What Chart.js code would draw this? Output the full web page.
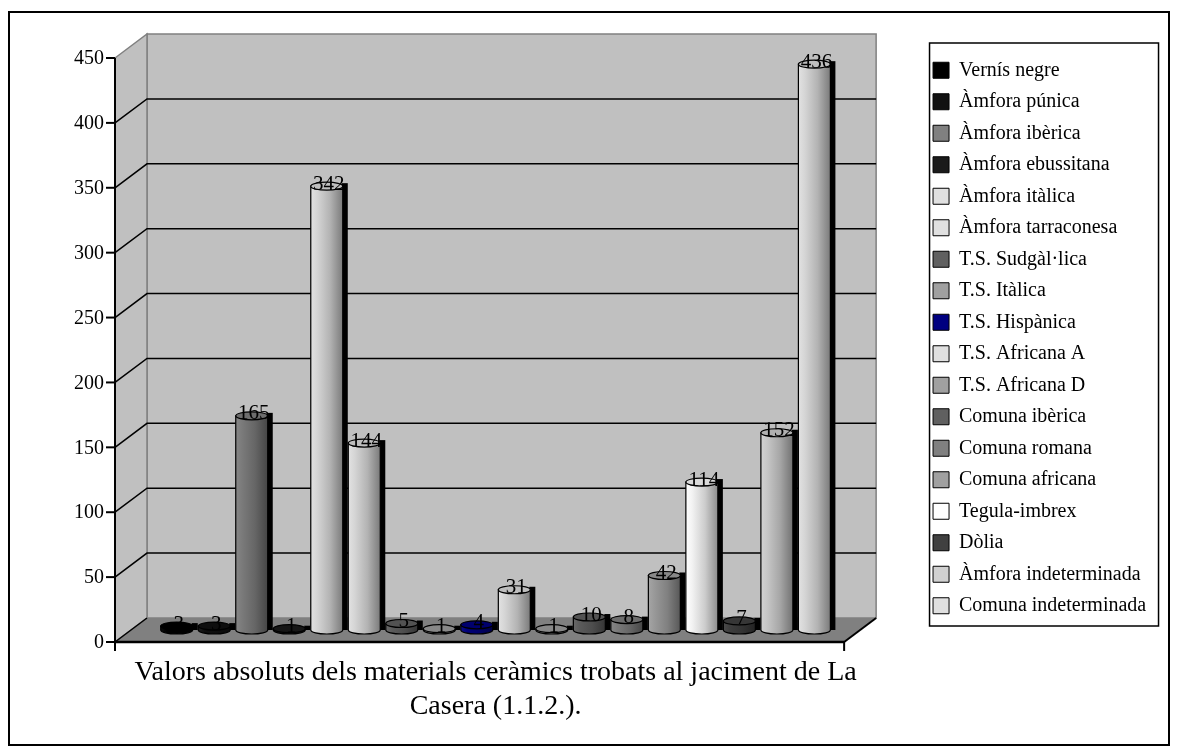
<!DOCTYPE html>
<html>
<head>
<meta charset="utf-8">
<script src="https://cdn.jsdelivr.net/npm/chart.js@4.4.1/dist/chart.umd.min.js"></script>
<style>
    body { margin: 0; background: #fff; }
    canvas { display: block; }
</style>
</head>
<body>
<canvas id="chart" width="1179" height="751"></canvas>
<script>
// Series (one per material)
const categories = [
    'Vernís negre', 'Àmfora púnica', 'Àmfora ibèrica', 'Àmfora ebussitana',
    'Àmfora itàlica', 'Àmfora tarraconesa', 'T.S. Sudgàl·lica', 'T.S. Itàlica',
    'T.S. Hispànica', 'T.S. Africana A', 'T.S. Africana D', 'Comuna ibèrica',
    'Comuna romana', 'Comuna africana', 'Tegula-imbrex', 'Dòlia',
    'Àmfora indeterminada', 'Comuna indeterminada'
];
const values = [3, 3, 165, 1, 342, 144, 5, 1, 4, 31, 1, 10, 8, 42, 114, 7, 152, 436];
const colors = [
    '#000000', '#111111', '#808080', '#1a1a1a', '#e0e0e0', '#e0e0e0',
    '#606060', '#a0a0a0', '#000080', '#e0e0e0', '#a0a0a0', '#606060',
    '#808080', '#a0a0a0', '#ffffff', '#404040', '#d0d0d0', '#e0e0e0'
];
const yMax = 450;
const yStep = 50;
const axisTitle = ['Valors absoluts dels materials ceràmics trobats al jaciment de La', 'Casera (1.1.2.).'];

const SERIF = 'Liberation Serif';
const DX = 16, DY = 12; // half depth of the fake 3D box

function shade(hex, f) {
    const n = parseInt(hex.slice(1), 16);
    let r = n >> 16, g = (n >> 8) & 255, b = n & 255;
    const t = f < 0 ? 0 : 255, p = Math.abs(f);
    r = Math.round(r + (t - r) * p);
    g = Math.round(g + (t - g) * p);
    b = Math.round(b + (t - b) * p);
    return `rgb(${r},${g},${b})`;
}

function quad(ctx, pts, fill, stroke) {
    ctx.beginPath();
    ctx.moveTo(pts[0][0], pts[0][1]);
    pts.slice(1).forEach(p => ctx.lineTo(p[0], p[1]));
    ctx.closePath();
    ctx.fillStyle = fill;
    ctx.fill();
    if (stroke) {
        ctx.strokeStyle = stroke;
        ctx.stroke();
    }
}

function line(ctx, x1, y1, x2, y2, color, w) {
    ctx.beginPath();
    ctx.moveTo(x1, y1);
    ctx.lineTo(x2, y2);
    ctx.strokeStyle = color;
    ctx.lineWidth = w;
    ctx.stroke();
}

// walls, floor, gridlines and the front value axis
const frame3d = {
    id: 'frame3d',
    beforeDatasetsDraw(chart) {
        const { ctx, chartArea: a } = chart;
        const y = chart.scales.y;
        const y0 = y.getPixelForValue(0);
        const yT = y.getPixelForValue(yMax);
        const fl = a.left - DX, bl = a.left + DX, fr = a.right - DX, br = a.right + DX;
        ctx.save();
        ctx.lineWidth = 1.5;
        quad(ctx, [[bl, yT - DY], [br, yT - DY], [br, y0 - DY], [bl, y0 - DY]], '#c0c0c0', '#808080');
        quad(ctx, [[fl, yT + DY], [bl, yT - DY], [bl, y0 - DY], [fl, y0 + DY]], '#c0c0c0', '#808080');
        quad(ctx, [[fl, y0 + DY], [bl, y0 - DY], [br, y0 - DY], [fr, y0 + DY]], '#808080', null);

        y.ticks.forEach(t => {
            if (t.value === 0 || t.value === yMax) return;
            const py = y.getPixelForValue(t.value);
            ctx.beginPath();
            ctx.moveTo(fl, py + DY);
            ctx.lineTo(bl, py - DY);
            ctx.lineTo(br, py - DY);
            ctx.strokeStyle = '#000';
            ctx.lineWidth = 1.5;
            ctx.stroke();
        });

        // front axis + ticks + labels
        line(ctx, fl, yT + DY, fl, y0 + DY, '#000', 2);
        ctx.font = `20px "${SERIF}"`;
        ctx.fillStyle = '#000';
        ctx.textAlign = 'right';
        ctx.textBaseline = 'middle';
        y.ticks.forEach(t => {
            const py = y.getPixelForValue(t.value) + DY;
            line(ctx, fl - 9, py, fl, py, '#000', 2);
            ctx.fillText(String(t.value), fl - 11, py + 1);
        });
        // floor edges and category axis ends
        line(ctx, fl, y0 + DY, fr, y0 + DY, '#000', 2.5);
        line(ctx, fr, y0 + DY, br, y0 - DY, '#000', 2);
        line(ctx, fl, y0 + DY, bl, y0 - DY, '#000', 1.5);
        line(ctx, fr, y0 + DY, fr, y0 + DY + 9, '#000', 2);
        line(ctx, fl, y0 + DY, fl, y0 + DY + 9, '#000', 2);
        ctx.restore();
    },
    afterDatasetsDraw(chart) {
        const { ctx } = chart;
        ctx.save();
        const bars = [];
        chart.data.datasets.forEach((ds, i) => {
            const el = chart.getDatasetMeta(i).data[0];
            if (!el) return;
            const { x, y, base, width } = el.getProps(['x', 'y', 'base', 'width'], true);
            bars.push({ x, y, base, width, c: ds.backgroundColor, v: ds.data[0] });
        });
        bars.forEach(b => {
            const l = b.x - b.width / 2, r = b.x + b.width / 2, ry = 4;
            // dark side
            ctx.fillStyle = '#000';
            ctx.fillRect(r - 1, b.y - 3, 6, b.base - b.y + 3);
            // body
            const g = ctx.createLinearGradient(l, 0, r, 0);
            g.addColorStop(0, shade(b.c, 0.05));
            g.addColorStop(0.2, shade(b.c, -0.05));
            g.addColorStop(0.6, shade(b.c, -0.2));
            g.addColorStop(1, shade(b.c, -0.45));
            ctx.fillStyle = g;
            ctx.beginPath();
            ctx.moveTo(l, b.y);
            ctx.lineTo(l, b.base);
            ctx.ellipse(b.x, b.base, b.width / 2, ry, 0, Math.PI, 0, true);
            ctx.lineTo(r, b.y);
            ctx.closePath();
            ctx.fill();
            ctx.strokeStyle = '#000';
            ctx.lineWidth = 1.2;
            ctx.stroke();
            // top cap
            ctx.beginPath();
            ctx.ellipse(b.x, b.y, b.width / 2, ry, 0, 0, Math.PI * 2);
            ctx.fillStyle = shade(b.c, -0.15);
            ctx.fill();
            ctx.stroke();
        });
        ctx.font = `21px "${SERIF}"`;
        ctx.fillStyle = '#000';
        ctx.textAlign = 'center';
        ctx.textBaseline = 'middle';
        bars.forEach(b => ctx.fillText(String(b.v), b.x + 2, b.y - 2));
        ctx.restore();
    },
    afterDraw(chart) {
        const { ctx, chartArea: a, legend } = chart;
        ctx.save();
        ctx.strokeStyle = '#000';
        ctx.lineWidth = 2;
        ctx.strokeRect(9, 12, 1160, 733);
        ctx.lineWidth = 1.5;
        ctx.strokeRect(legend.left + 8, a.top - 3, 229, a.bottom - a.top - 1);
        ctx.restore();
    }
};

new Chart(document.getElementById('chart'), {
    type: 'bar',
    data: {
        labels: [''],
        datasets: categories.map((name, i) => ({
            label: name,
            data: [values[i]],
            backgroundColor: colors[i],
            borderColor: '#000',
            borderWidth: 1,
            categoryPercentage: 0.926,
            barPercentage: 0.853,
        })),
    },
    options: {
        responsive: false,
        animation: false,
        events: [],
        layout: { padding: { left: 131, top: 46, right: 22.8, bottom: 1 } },
        scales: {
            x: {
                display: true,
                grid: { display: false },
                border: { display: false },
                ticks: { display: false },
                title: {
                    display: true,
                    text: axisTitle,
                    color: '#000',
                    font: { family: SERIF, size: 28, lineHeight: 34 / 28 },
                    padding: { top: 18, bottom: 26 },
                },
            },
            y: {
                position: 'right',
                min: 0,
                max: yMax,
                display: true,
                grid: { display: false },
                border: { display: false },
                ticks: { display: false, stepSize: yStep },
                afterFit(scale) { scale.width = 61.4; },
            },
        },
        plugins: {
            tooltip: { enabled: false },
            legend: {
                position: 'right',
                align: 'center',
                fullSize: false,
                labels: {
                    boxWidth: 16,
                    boxHeight: 16,
                    padding: 11.5,
                    color: '#000',
                    font: { family: SERIF, size: 20 },
                },
            },
        },
    },
    plugins: [frame3d],
});
</script>
</body>
</html>
